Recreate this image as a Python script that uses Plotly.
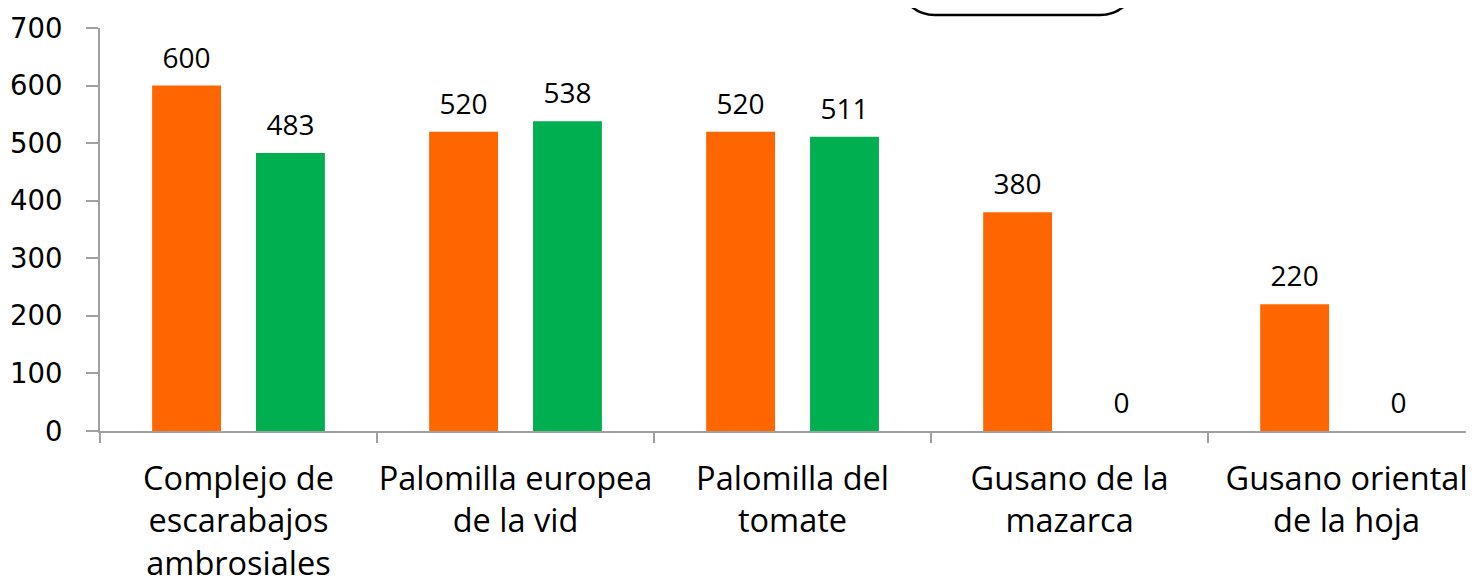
import plotly.graph_objects as go

categories = ["Complejo de<br>escarabajos<br>ambrosiales", "Palomilla europea<br>de la vid",
              "Palomilla del<br>tomate", "Gusano de la<br>mazarca", "Gusano oriental<br>de la hoja"]
serie_a = [600, 520, 520, 380, 220]
serie_b = [483, 538, 511, 0, 0]
y_ticks = [0, 100, 200, 300, 400, 500, 600, 700]

ORANGE = "#FF6600"
GREEN = "#00B050"

fig = go.Figure()
for name, vals, col in [("A", serie_a, ORANGE), ("B", serie_b, GREEN)]:
    fig.add_trace(go.Bar(x=categories, y=vals, name=name, marker_color=col,
                         marker_line_width=0, offsetgroup=name))
for name, vals in [("A", serie_a), ("B", serie_b)]:
    fig.add_trace(go.Scatter(x=categories, y=vals, mode="markers+text", text=[str(v) for v in vals],
                             textposition="top center", offsetgroup=name,
                             marker=dict(size=16, opacity=0), hoverinfo="skip",
                             textfont=dict(family="Open Sans", size=28, color="black"),
                             cliponaxis=False, showlegend=False))

# page body adds an 8px offset, so the figure is sized/margined to compensate
fig.update_layout(
    width=1466, height=577,
    margin=dict(l=92, r=0, t=20, b=154),
    paper_bgcolor="white", plot_bgcolor="white",
    showlegend=False,
    barmode="group", bargap=0.25, bargroupgap=0.337,
    scattermode="group", scattergap=0.25,
    xaxis=dict(type="category", range=[-0.5, 4.46], showline=True, linecolor="#A0A0A0", linewidth=2,
               ticks="outside", tickson="boundaries", ticklen=10, tickcolor="#A0A0A0", tickwidth=2,
               tickfont=dict(family="Open Sans", size=32.5, color="black"), showgrid=False,
               automargin=False, ticklabelstandoff=18, tickangle=0),
    yaxis=dict(range=[0, 700], tickvals=y_ticks, showline=True, linecolor="#A0A0A0", linewidth=2,
               ticks="outside", ticklen=12, tickcolor="#A0A0A0", tickwidth=2,
               tickfont=dict(family="DejaVu Sans", size=27.5, color="black"), showgrid=False,
               zeroline=False, automargin=False, ticklabelstandoff=18),
)

# rounded box partially visible at the top (legend frame); image px -> paper coords
W, H = 1374, 403
def px(X):
    return (X - 100) / W
def py(Y):
    return (431 - Y) / H
r = 37.5
k = 0.5523 * r
xl, xr, yb = 897.5, 1137.5, 15
path = (f"M {px(xl)} {py(-40)} L {px(xl)} {py(yb - r)} "
        f"C {px(xl)} {py(yb - r + k)} {px(xl + r - k)} {py(yb)} {px(xl + r)} {py(yb)} "
        f"L {px(xr - r)} {py(yb)} "
        f"C {px(xr - r + k)} {py(yb)} {px(xr)} {py(yb - r + k)} {px(xr)} {py(yb - r)} "
        f"L {px(xr)} {py(-40)}")
fig.add_shape(type="path", path=path, xref="paper", yref="paper",
              line=dict(color="black", width=2.5))

fig.write_html("out.html")
